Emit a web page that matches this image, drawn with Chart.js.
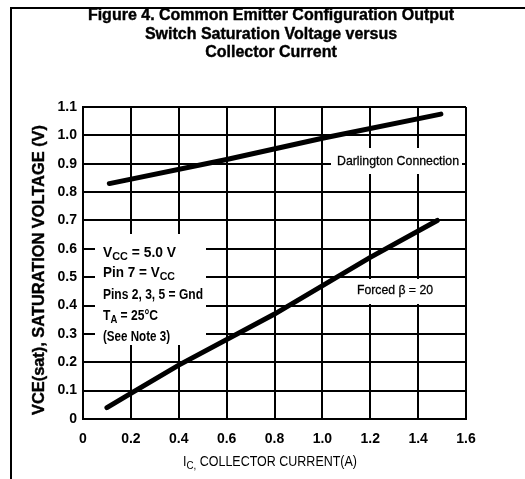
<!DOCTYPE html>
<html>
<head>
<meta charset="utf-8">
<script src="https://cdn.jsdelivr.net/npm/chart.js@4/dist/chart.umd.min.js"></script>
<style>
  html, body { margin: 0; padding: 0; background: #fff; }
  canvas { display: block; }
</style>
</head>
<body>
<canvas id="chart" width="525" height="479"></canvas>
<script>
// axis ticks
const xTicks = [0, 0.2, 0.4, 0.6, 0.8, 1.0, 1.2, 1.4, 1.6];
const yTicks = [0, 0.1, 0.2, 0.3, 0.4, 0.5, 0.6, 0.7, 0.8, 0.9, 1.0, 1.1];

// Darlington connection curve
const darlingtonIc = [0.11, 0.6, 1.0, 1.495];
const darlingtonV = [0.83, 0.915, 0.99, 1.075];

// Forced beta = 20 curve
const forcedIc = [0.1, 0.2, 0.4, 0.8, 1.2, 1.48];
const forcedV = [0.04, 0.09, 0.19, 0.37, 0.57, 0.70];

const FAMILY = "'Liberation Sans Narrow', 'Liberation Sans', Arial, sans-serif";

function toPoints(xs, ys) {
  return xs.map((x, i) => ({ x: x, y: ys[i] }));
}

function fmt(v) {
  return v === 0 ? '0' : v.toFixed(1);
}

// draw a run of [text, isSub] pieces, optionally squeezed to a given width
function drawRuns(ctx, runs, x, y, size, weight, width, align, heavy) {
  const fontOf = r => weight + ' ' + (r[1] ? Math.round(size * 0.8) : size) + 'px ' + FAMILY;
  let total = 0;
  runs.forEach(r => { ctx.font = fontOf(r); total += ctx.measureText(r[0]).width; });
  const sx = width ? width / total : 1;
  ctx.save();
  ctx.translate(x, y);
  ctx.scale(sx, 1);
  ctx.textBaseline = 'middle';
  ctx.textAlign = 'left';
  ctx.fillStyle = '#000';
  ctx.strokeStyle = '#000';
  ctx.lineWidth = heavy || 0;
  let cx = align === 'center' ? -total / 2 : 0;
  runs.forEach(r => {
    ctx.font = fontOf(r);
    const dy = r[1] ? size * 0.3 : 0;
    ctx.fillText(r[0], cx, dy);
    if (heavy) ctx.strokeText(r[0], cx, dy);
    cx += ctx.measureText(r[0]).width;
  });
  ctx.restore();
}

const annotations = {
  id: 'annotations',
  beforeDatasetsDraw(chart) {
    const ctx = chart.ctx;
    ctx.save();
    ctx.fillStyle = '#fff';
    ctx.fillRect(95, 234, 111, 111);   // conditions box
    ctx.fillRect(331, 148, 131, 26);   // Darlington label
    ctx.fillRect(347, 279, 103, 25);   // Forced beta label
    ctx.restore();
  },
  afterDraw(chart) {
    const ctx = chart.ctx;
    // frame
    ctx.save();
    ctx.strokeStyle = '#000';
    ctx.lineWidth = 2;
    ctx.beginPath();
    ctx.moveTo(11, 479);
    ctx.lineTo(11, 8);
    ctx.lineTo(525, 8);
    ctx.stroke();
    ctx.restore();

    // title
    drawRuns(ctx, [['Figure 4. Common Emitter Configuration Output']], 271, 16, 16, 'bold', 0, 'center', 0.4);
    drawRuns(ctx, [['Switch Saturation Voltage versus']], 271, 34.5, 16, 'bold', 0, 'center', 0.4);
    drawRuns(ctx, [['Collector Current']], 271, 53, 16, 'bold', 0, 'center', 0.4);

    // y axis title
    ctx.save();
    ctx.translate(40, 270);
    ctx.rotate(-Math.PI / 2);
    drawRuns(ctx, [['V'], ['CE(sat)'], [', SATURATION VOLTAGE (V)']], 0, 0, 16, 'bold', 290, 'center', 0.4);
    ctx.restore();

    // x axis title
    drawRuns(ctx, [['I'], ['C,', true], [' COLLECTOR CURRENT(A)']], 270, 462, 14, 'normal', 174, 'center');

    // notes
    drawRuns(ctx, [['V'], ['CC', true], [' = 5.0 V']], 103, 253, 14, 'bold', 73, 'left');
    drawRuns(ctx, [['Pin 7 = V'], ['CC', true]], 103, 273, 14, 'bold', 72, 'left');
    drawRuns(ctx, [['Pins 2, 3, 5 = Gnd']], 103, 295, 14, 'bold', 100, 'left');
    drawRuns(ctx, [['T'], ['A', true], [' = 25\u00B0C']], 103, 316, 14, 'bold', 55, 'left');
    drawRuns(ctx, [['(See Note 3)']], 103, 337, 14, 'bold', 67, 'left');
    drawRuns(ctx, [['Darlington Connection']], 337, 161, 13, 'normal', 122, 'left', 0.3);
    drawRuns(ctx, [['Forced \u03B2 = 20']], 357, 290, 13, 'normal', 76, 'left', 0.3);
  }
};

new Chart(document.getElementById('chart'), {
  type: 'scatter',
  data: {
    datasets: [
      {
        label: 'Darlington Connection',
        data: toPoints(darlingtonIc, darlingtonV),
        showLine: true,
        borderColor: '#000',
        borderWidth: 5,
        borderCapStyle: 'round',
        pointRadius: 0
      },
      {
        label: 'Forced beta = 20',
        data: toPoints(forcedIc, forcedV),
        showLine: true,
        borderColor: '#000',
        borderWidth: 5,
        borderCapStyle: 'round',
        pointRadius: 0
      }
    ]
  },
  options: {
    responsive: false,
    animation: false,
    layout: { padding: { left: 0, top: 107, right: 59, bottom: 0 } },
    plugins: {
      legend: { display: false },
      tooltip: { enabled: false }
    },
    scales: {
      x: {
        type: 'linear',
        min: 0,
        max: 1.6,
        afterFit: s => { s.height = 60; },
        afterBuildTicks: s => { s.ticks = xTicks.map(v => ({ value: v })); },
        grid: { color: '#000', lineWidth: 2, drawTicks: false },
        border: { color: '#000', width: 2 },
        ticks: {
          padding: 12,
          color: '#000',
          font: { family: FAMILY, size: 14, weight: 'bold' },
          callback: v => fmt(v)
        }
      },
      y: {
        min: 0,
        max: 1.1,
        afterFit: s => { s.width = 83; },
        afterBuildTicks: s => { s.ticks = yTicks.map(v => ({ value: v })); },
        grid: { color: '#000', lineWidth: 2, drawTicks: false },
        border: { color: '#000', width: 2 },
        ticks: {
          padding: 6,
          color: '#000',
          font: { family: FAMILY, size: 14, weight: 'bold' },
          callback: v => fmt(v)
        }
      }
    }
  },
  plugins: [annotations]
});
</script>
</body>
</html>
